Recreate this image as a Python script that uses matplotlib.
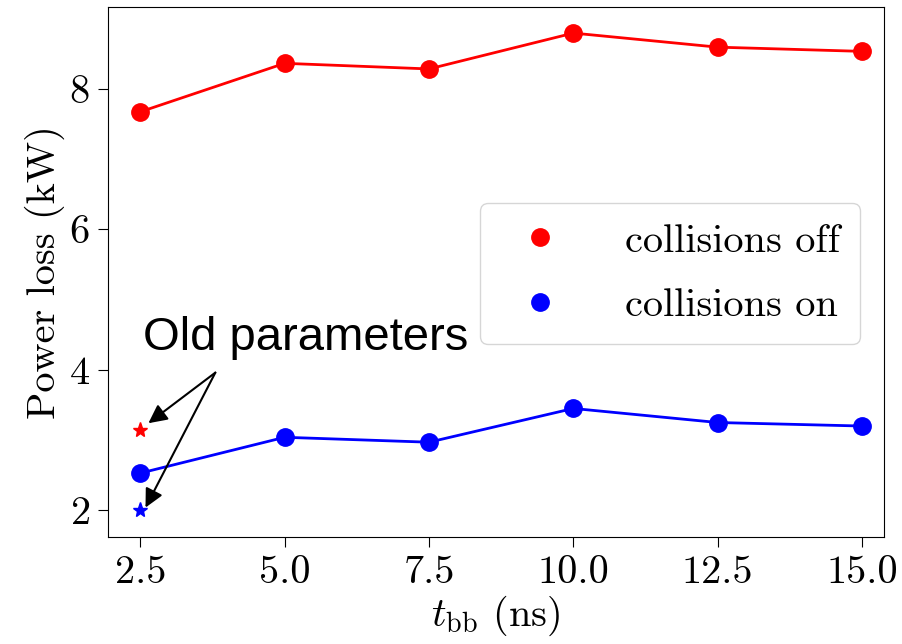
#!/usr/bin/env python3

import matplotlib as mpl
mpl.use('Agg')
import matplotlib.pyplot as plt

## Data
t_bb = [2.5, 5.0, 7.5, 10.0, 12.5, 15.0]  # ns
loss_off = [7.67, 8.36, 8.28, 8.79, 8.59, 8.53]  # kW, collisions off
loss_on = [2.53, 3.04, 2.97, 3.45, 3.25, 3.20]  # kW, collisions on
old_t = [2.5]
old_off = [3.14]
old_on = [2.00]
x_ticks = [2.5, 5.0, 7.5, 10.0, 12.5, 15.0]
y_ticks = [2, 4, 6, 8]

plt.rcParams['font.family'] = 'cmr10'
plt.rcParams['mathtext.fontset'] = 'cm'
plt.rcParams['axes.formatter.use_mathtext'] = True

fig = plt.figure(figsize=(9.02, 6.44), dpi=100)
ax = fig.add_axes([0.1197, 0.166, 0.8603, 0.823])

# lines + markers (markers only go to the legend)
ax.plot(t_bb, loss_off, color='red', lw=2)
ax.plot(t_bb, loss_on, color='blue', lw=2)
ax.plot(t_bb, loss_off, 'o', color='red', ms=12.5, label='collisions off')
ax.plot(t_bb, loss_on, 'o', color='blue', ms=12.5, label='collisions on')

# old parameters
ax.plot(old_t, old_off, '*', color='red', ms=11)
ax.plot(old_t, old_on, '*', color='blue', ms=11)

ax.text(2.55, 4.28, 'Old parameters', family='Liberation Sans', fontsize=34,
        ha='left', va='baseline', zorder=6)
arrow = dict(arrowstyle='-|>', color='black', lw=1.5, mutation_scale=28,
             shrinkA=0, shrinkB=0)
ax.annotate('', xy=(2.64, 3.24), xytext=(3.80, 3.96), arrowprops=arrow)
ax.annotate('', xy=(2.59, 2.04), xytext=(3.80, 3.96), arrowprops=arrow)

ax.set_xlim(1.94, 15.38)
ax.set_ylim(1.62, 9.16)
ax.set_xticks(x_ticks)
ax.set_yticks(y_ticks)
ax.set_xticklabels(['{:.1f}'.format(x) for x in x_ticks])
ax.tick_params(labelsize=29, length=7, pad=6)

ax.set_xlabel(r'$t_{\rm bb}$ (ns)', fontsize=29, labelpad=2)
ax.set_ylabel('Power loss (kW)', fontsize=29, labelpad=3)

ax.legend(loc='upper right', bbox_to_anchor=(0.969, 0.630), borderaxespad=0,
          fontsize=29, numpoints=1, handlelength=2.0, handletextpad=1.1,
          borderpad=0.5, labelspacing=0.7)

fig.savefig('out.png', dpi=100)
